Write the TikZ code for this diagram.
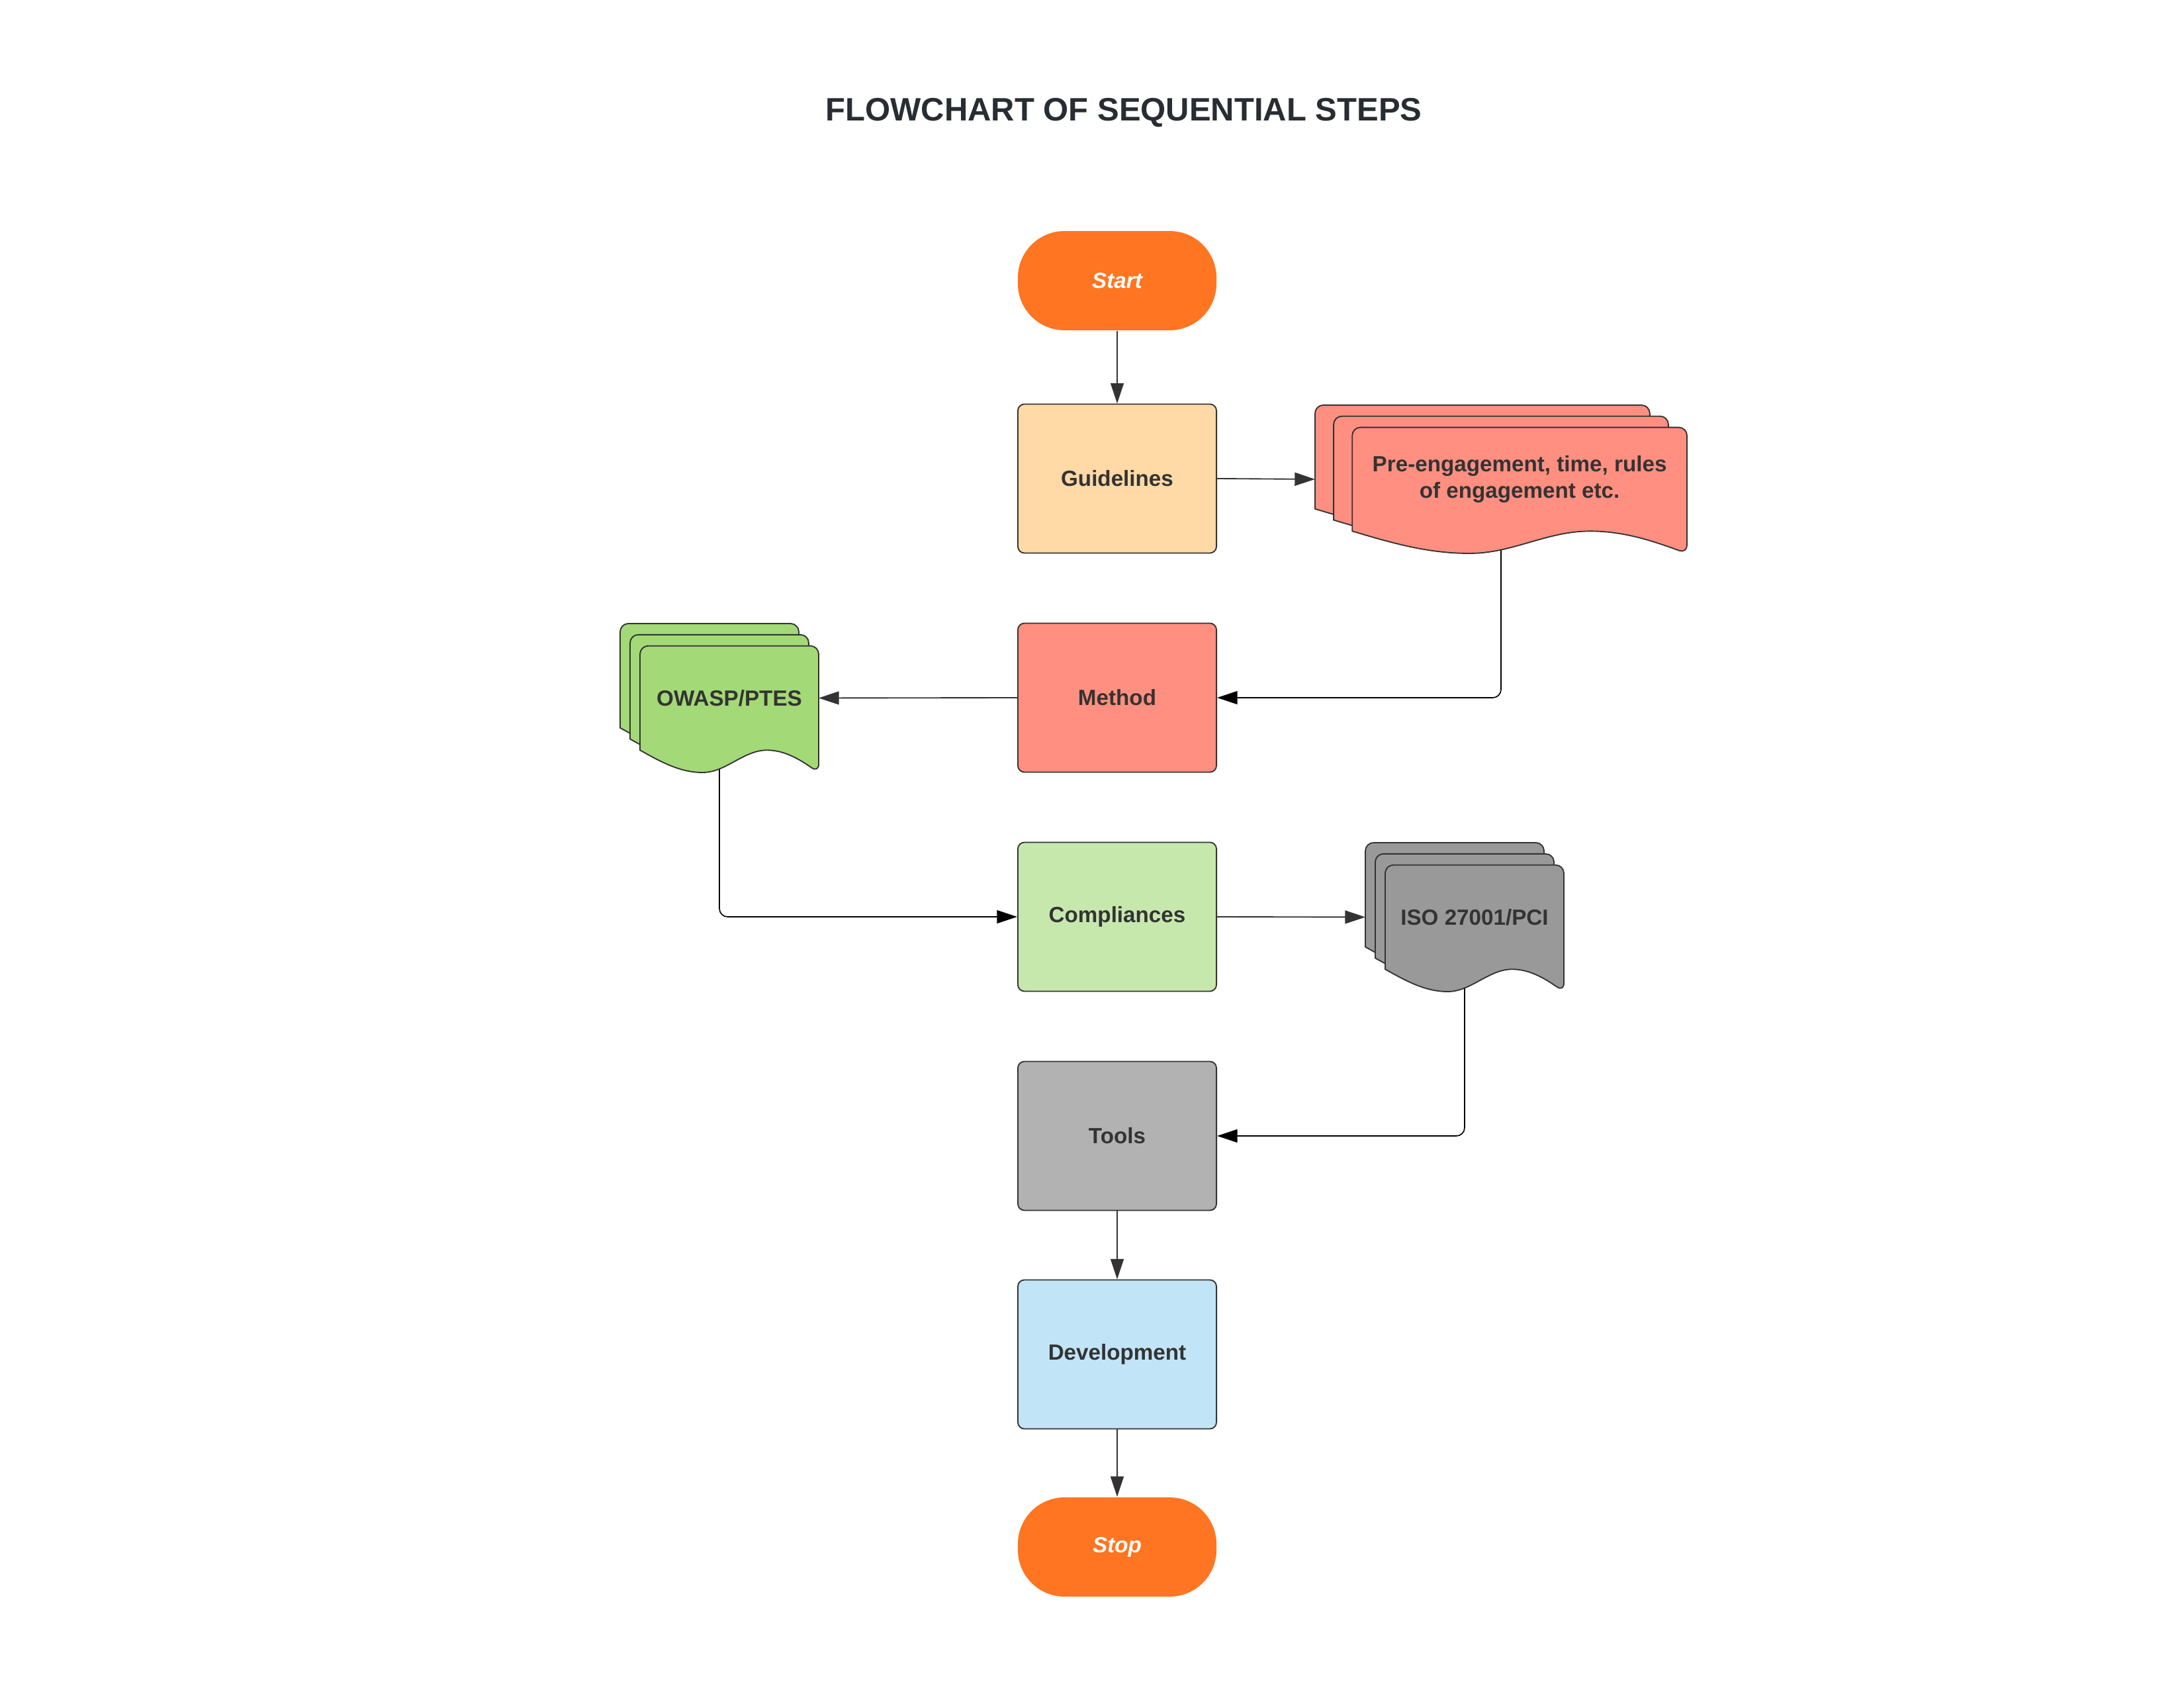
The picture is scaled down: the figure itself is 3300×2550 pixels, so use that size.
\documentclass[tikz,border=0pt]{standalone}
\usepackage{fontspec}
\setmainfont{Liberation Sans}
\usetikzlibrary{arrows.meta}
\pgfdeclarelayer{background}
\pgfsetlayers{background,main}

\definecolor{ink}{HTML}{333333}
\definecolor{titleink}{HTML}{282C33}
\definecolor{termfill}{HTML}{FF7521}
\definecolor{guidefill}{HTML}{FFD9A6}
\definecolor{salmon}{HTML}{FF8F80}
\definecolor{leaf}{HTML}{A3D977}
\definecolor{paleleaf}{HTML}{C7E8AC}
\definecolor{darkgrey}{HTML}{999999}
\definecolor{midgrey}{HTML}{B2B2B2}
\definecolor{skyfill}{HTML}{C1E4F7}

\tikzset{
	docstack/.pic={
		% three sheets, back one first
		\foreach \sheet in {0,1,2}
		{
			\draw[fill=#1,shift={(\sheet*.05,\sheet*.075)}] (0,.7) [rounded corners=3pt] -- (0,0) -- (.9,0) -- (.9,.85)
				[sharp corners] sin (.64,.7) cos (.477,.775) sin (.315,.85) cos (0,.7) -- cycle;
		}
		\coordinate (-west) at (0,.5);
		\coordinate (-east) at (1,.5);
		\coordinate (-mid) at (.5,.5);
		\coordinate (-text) at (.55,.5);
	}
}

\begin{document}
\begin{tikzpicture}[x=0.2409pt,y=-0.2409pt,color=ink,line width=0.45pt,
	font=\fontsize{8}{9.6}\selectfont\bfseries,
	box/.style={draw,rounded corners=2.4pt,minimum width=72.3pt,minimum height=54.2pt,align=center},
	term/.style={fill=termfill,rounded corners=17pt,minimum width=72.3pt,minimum height=36.1pt,
		text=white,font=\fontsize{8}{9.6}\selectfont\bfseries\itshape},
	arr/.style={-{Triangle[length=7.4pt,width=4.8pt]}}]
\useasboundingbox (0,0) rectangle (3300,2550);

%title
\node[font=\fontsize{11.8}{14}\selectfont\bfseries,text=titleink] (title) at (1698,170) {FLOWCHART OF SEQUENTIAL STEPS};

%main column
\node[term] (start) at (1688,424) {Start};
\node[box,fill=guidefill] (guide) at (1688,723) {Guidelines};
\node[box,fill=salmon] (method) at (1688,1054) {Method};
\node[box,fill=paleleaf] (compl) at (1688,1385) {Compliances};
\node[box,fill=midgrey] (tools) at (1688,1716) {Tools};
\node[box,fill=skyfill] (devel) at (1688,2046) {Development};
\node[term] (stop) at (1688,2337) {Stop};

%document stacks
\path (1987,612) pic[x={(562,0)},y={(0,224)}] (red) {docstack=salmon};
\node[align=center] (redtxt) at (red-text) {Pre-engagement, time, rules\\of engagement etc.};

\path (937,942) pic[x={(300,0)},y={(0,225)}] (owasp) {docstack=leaf};
\node (owasptxt) at (owasp-text) {OWASP/PTES};

\path (2063,1273) pic[x={(300,0)},y={(0,225)}] (iso) {docstack=darkgrey};
\node (isotxt) at (iso-text) {ISO 27001/PCI};

%connectors
\draw[arr] (start) -- (guide);
\draw[arr] (guide.east) -- (red-west);
\draw[arr] (method.west) -- (owasp-east);
\draw[arr] (compl.east) -- (iso-west);
\draw[arr] (tools) -- (devel);
\draw[arr] (devel) -- (stop);

% these start behind the sheets
\begin{pgfonlayer}{background}
	\draw[arr,rounded corners=3pt] (red-mid) |- (method.east);
	\draw[arr,rounded corners=3pt] (owasp-mid) |- (compl.west);
	\draw[arr,rounded corners=3pt] (iso-mid) |- (tools.east);
\end{pgfonlayer}

\end{tikzpicture}
\end{document}
